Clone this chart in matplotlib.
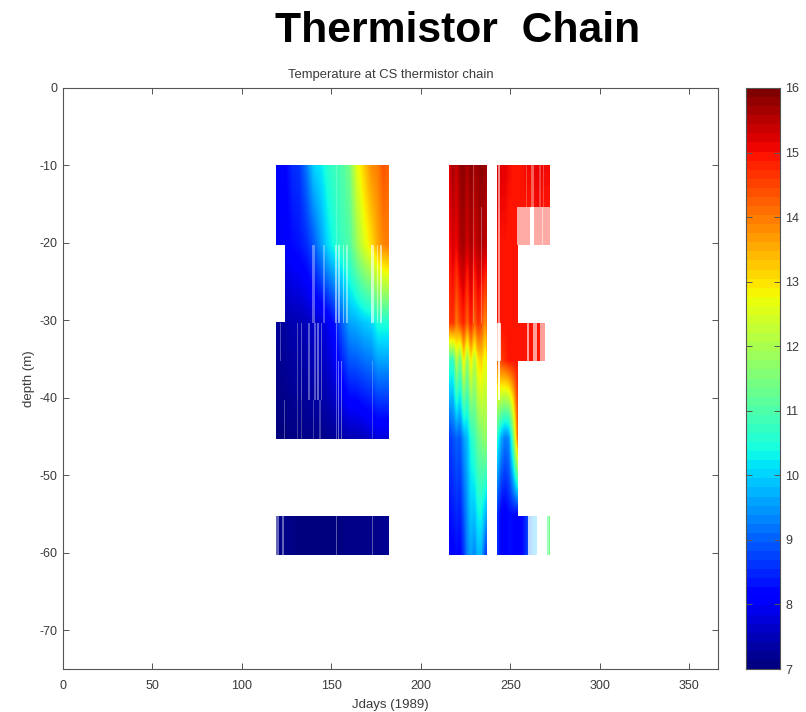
# thermistor chain temperature section
import matplotlib
matplotlib.use('Agg')
import matplotlib.pyplot as plt
import numpy as np

plt.rcParams['font.family'] = ['Liberation Sans', 'DejaVu Sans']
plt.rcParams['axes.unicode_minus'] = False

# first deployment
days1 = [119, 124, 128, 132, 136, 140, 144, 148, 152, 156, 160, 164, 168, 172, 176, 179, 182]
levels1 = [-10, -20.3, -30.3, -45.3]
temp1 = [
    [8.0, 8.1, 8.5, 8.6, 9.2, 10.0, 10.2, 10.6, 10.8, 11.0, 11.4, 12.6, 13.2, 13.8, 14.0, 14.4, 14.2],
    [7.9, 8.0, 8.2, 8.3, 8.5, 8.9, 9.5, 10.1, 10.5, 10.8, 11.0, 11.8, 12.5, 13.0, 13.6, 13.9, 14.0],
    [7.2, 7.3, 7.4, 7.4, 7.5, 7.6, 7.7, 7.9, 8.3, 9.0, 9.6, 9.7, 9.9, 10.0, 10.5, 10.5, 10.5],
    [7.0, 7.0, 7.05, 7.05, 7.1, 7.1, 7.1, 7.15, 7.2, 7.3, 7.4, 7.4, 7.5, 7.6, 7.7, 7.7, 7.7],
]
levels1b = [-55.3, -60.3]
temp1b = [
    [7.1, 7.1, 7.05, 7.0, 7.0, 7.0, 7.0, 7.0, 7.0, 7.05, 7.1, 7.1, 7.1, 7.1, 7.1, 7.15, 7.15],
    [7.1, 7.1, 7.05, 7.0, 7.0, 7.0, 7.0, 7.0, 7.0, 7.05, 7.1, 7.1, 7.1, 7.1, 7.1, 7.15, 7.15],
]

# second deployment
days2 = [215.8, 218, 220, 222, 224, 226, 228, 230, 232, 234, 236, 237]
levels2 = [-10, -20.3, -30.3, -35.2, -45.3, -60.3]
temp2 = [
    [15.2, 15.7, 15.4, 15.8, 15.9, 15.6, 15.9, 15.7, 15.8, 15.9, 15.8, 15.7],
    [15.0, 15.3, 15.1, 15.6, 15.7, 15.3, 15.7, 15.3, 15.6, 15.6, 15.5, 15.4],
    [14.6, 14.8, 14.0, 14.6, 14.9, 14.2, 15.0, 14.2, 14.8, 14.5, 13.8, 14.2],
    [10.8, 10.6, 12.2, 11.2, 13.0, 11.6, 13.0, 12.0, 13.0, 13.2, 12.6, 13.0],
    [8.6, 8.8, 9.0, 8.9, 9.5, 9.8, 10.5, 10.8, 11.3, 11.5, 11.8, 11.6],
    [8.0, 8.1, 8.2, 8.1, 8.6, 9.3, 9.6, 9.3, 9.8, 9.7, 8.8, 8.6],
]

# third deployment
days3 = [242.6, 245, 247, 249, 251, 253.8, 256, 259, 262, 265, 268, 271.7]
levels3 = [-10, -15.4, -20.3, -30.3, -35.2, -45.3, -55.3, -60.3]
temp3 = [
    [15.3, 15.2, 15.2, 15.1, 15.0, 15.0, 15.0, 15.1, 15.1, 15.2, 15.1, 15.1],
    [15.2, 15.1, 15.1, 15.0, 15.0, 15.0, 15.0, 15.0, 15.0, 15.1, 15.0, 15.0],
    [15.0, 15.0, 15.0, 15.0, 15.0, 15.0, 15.0, 15.0, 15.0, 15.0, 15.0, 15.0],
    [15.0, 15.0, 15.0, 15.0, 15.0, 15.0, 15.0, 15.0, 15.0, 15.0, 15.0, 15.0],
    [14.2, 14.6, 14.8, 15.0, 15.0, 15.0, 15.0, 15.0, 15.0, 15.0, 15.0, 15.0],
    [10.6, 9.6, 9.2, 9.4, 11.0, 14.4, 14.4, 14.4, 14.4, 14.4, 14.4, 14.4],
    [8.6, 8.0, 8.0, 8.2, 8.2, 8.0, 8.1, 8.6, 9.6, 10.0, 10.4, 11.5],
    [8.6, 8.0, 8.0, 8.2, 8.2, 8.0, 8.1, 8.6, 9.6, 10.0, 10.4, 11.5],
]

# data gaps: day, width in days, upper depth, lower depth, strength
gaps = [
    (139.9, 1.6, -20.3, -30.3, 0.35), (145.9, 1.0, -20.3, -30.3, 0.3),
    (152.6, 1.0, -20.3, -30.3, 0.5), (154.4, 1.0, -20.3, -30.3, 0.5),
    (156.7, 1.0, -20.3, -30.3, 0.45), (158.5, 1.0, -20.3, -30.3, 0.45),
    (173.1, 1.6, -20.3, -30.3, 0.6), (175.7, 0.9, -20.3, -30.3, 0.5),
    (177.5, 1.2, -20.3, -30.3, 0.6), (152.9, 0.6, -10, -20.3, 0.2),
    (121.3, 0.5, -30.3, -35.2, 0.3), (131.0, 0.7, -30.3, -40.3, 0.3),
    (133.2, 0.9, -30.3, -40.3, 0.35), (137.5, 1.0, -30.3, -40.3, 0.35),
    (140.8, 0.8, -30.3, -40.3, 0.35), (142.7, 1.1, -30.3, -40.3, 0.4),
    (144.6, 0.8, -30.3, -40.3, 0.35), (152.9, 0.6, -30.3, -45.3, 0.35),
    (153.9, 0.8, -35.2, -45.3, 0.4), (155.7, 0.9, -35.2, -45.3, 0.4),
    (124.0, 0.5, -40.3, -45.3, 0.3), (131.0, 0.5, -40.3, -45.3, 0.25),
    (133.4, 0.5, -40.3, -45.3, 0.25), (139.9, 0.7, -40.3, -45.3, 0.25),
    (143.6, 0.7, -40.3, -45.3, 0.25), (172.9, 0.6, -35.2, -45.3, 0.25),
    (119.8, 1.4, -55.3, -60.3, 0.4), (122.8, 1.0, -55.3, -60.3, 0.4),
    (152.9, 0.5, -55.3, -60.3, 0.35), (172.9, 0.8, -55.3, -60.3, 0.35),
    (229.3, 0.9, -10, -30.3, 0.25), (234.0, 0.6, -15.4, -30.3, 0.3),
    (243.7, 1.0, -10, -30.3, 0.55), (243.7, 1.2, -30.3, -40.3, 0.85),
    (259.1, 0.8, -10, -15.4, 0.25), (262.3, 1.8, -10, -15.4, 0.35),
    (266.6, 0.7, -10, -15.4, 0.25), (268.5, 0.6, -10, -15.4, 0.25),
    (263.0, 18.4, -15.4, -20.3, 0.65), (262.1, 2.2, -15.4, -20.3, 1.0),
    (268.1, 0.6, -15.4, -20.3, 0.5), (243.5, 2.0, -30.3, -35.2, 0.8),
    (259.85, 1.5, -30.3, -35.2, 0.6), (263.8, 1.8, -30.3, -35.2, 0.6),
    (268.0, 2.8, -30.3, -35.2, 0.6), (270.7, 2.6, -30.3, -35.2, 1.0),
    (262.4, 4.8, -55.3, -60.3, 0.75), (267.7, 6.0, -55.3, -60.3, 1.0),
    (271.2, 1.0, -55.3, -60.3, 0.4),
]

xticks = [0, 50, 100, 150, 200, 250, 300, 350]
yticks = [0, -10, -20, -30, -40, -50, -60, -70]
cticks = [7, 8, 9, 10, 11, 12, 13, 14, 15, 16]

cmap = plt.get_cmap('jet', 64)
ink = '#3a3a3a'


def draw_block(ax, days, levels, temps, day_min, day_max, top, bottom):
    # shade between the sensors in temperature, the way shading interp does
    days = np.array(days)
    levels = np.array(levels)
    temps = np.array(temps)
    keep_x = (days >= day_min) & (days <= day_max)
    xf = np.linspace(days[keep_x][0], days[keep_x][-1], 200)
    yf = np.linspace(top, bottom, 200)
    cols = np.array([np.interp(xf, days, row) for row in temps])
    grid = np.array([np.interp(-yf, -levels, cols[:, i]) for i in range(len(xf))]).T
    ax.imshow(grid, extent=[xf[0], xf[-1], bottom, top], origin='upper', aspect='auto',
              cmap='jet', vmin=7, vmax=16, interpolation='bilinear')


def style_axis(ax):
    ax.tick_params(direction='in', top=True, right=True, labelsize=9, length=4.5,
                   width=0.7, pad=4, color='#555555', labelcolor=ink)
    for spine in ax.spines.values():
        spine.set_linewidth(0.8)
        spine.set_color('#555555')


fig = plt.figure(figsize=(8.06, 7.12), dpi=100)
ax = fig.add_axes([63 / 806, 1 - 669 / 712, 655 / 806, 581 / 712])

# first deployment, with the missing sensor between -20 and -30 early on
draw_block(ax, days1, levels1, temp1, 119, 182, -10, -20.3)
draw_block(ax, days1, levels1, temp1, 124, 182, -20.3, -30.3)
draw_block(ax, days1, levels1, temp1, 119, 182, -30.3, -45.3)
draw_block(ax, days1, levels1b, temp1b, 119, 182, -55.3, -60.3)

draw_block(ax, days2, levels2, temp2, 215, 238, -10, -60.3)

draw_block(ax, days3, levels3, temp3, 242, 272, -10, -20.3)
draw_block(ax, days3, levels3, temp3, 242, 254, -20.3, -55.3)
draw_block(ax, days3, levels3, temp3, 242, 272, -30.3, -35.2)
draw_block(ax, days3, levels3, temp3, 242, 272, -55.3, -60.3)

for day, wide, upper, lower, strength in gaps:
    ax.fill_betweenx([lower, upper], day - wide / 2, day + wide / 2, color='white',
                     alpha=strength, linewidth=0, zorder=3)

ax.set_xlim(0, 366)
ax.set_ylim(-75, 0)
ax.set_xticks(xticks)
ax.set_yticks(yticks)
ax.set_xlabel('Jdays (1989)', fontsize=9.5, labelpad=5, color=ink)
ax.set_ylabel('depth (m)', fontsize=9.5, labelpad=3, color=ink)
ax.set_title('Temperature at CS thermistor chain', fontsize=9.4, pad=7.5, color=ink)
style_axis(ax)
ax.tick_params(axis='x', pad=8)

# colorbar
cax = fig.add_axes([746 / 806, 1 - 669 / 712, 34 / 806, 581 / 712])
grad = np.linspace(7, 16, 65)
cax.pcolormesh([0, 1], grad, ((grad[:-1] + grad[1:]) / 2).reshape(-1, 1), cmap=cmap, vmin=7, vmax=16)
cax.set_xticks([])
cax.yaxis.tick_right()
cax.set_yticks(cticks)
style_axis(cax)
cax.tick_params(top=False, left=True, right=True)

fig.text(457.5 / 806, 1 - 41.7 / 712, 'Thermistor  Chain', fontsize=30.7, fontweight='bold',
         ha='center', va='baseline')

fig.savefig('out.png', dpi=100)
